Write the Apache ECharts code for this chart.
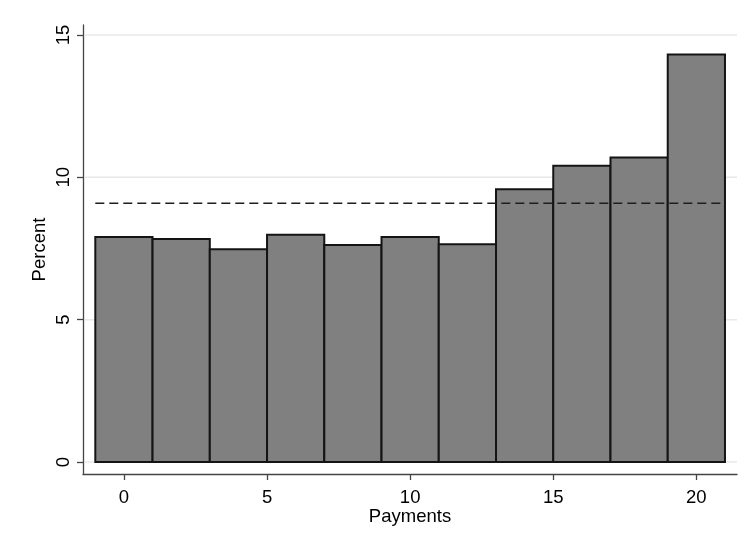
<!DOCTYPE html>
<html>
<head>
<meta charset="utf-8">
<script src="https://cdn.jsdelivr.net/npm/echarts@6/dist/echarts.min.js"></script>
<style>html,body{margin:0;padding:0;background:#fff}#c{width:744px;height:539px}</style>
</head>
<body>
<div id="c"></div>
<script>
// Histogram bins (centre of each bin, width 2)
var binCenters = [0, 2, 4, 6, 8, 10, 12, 14, 16, 18, 20];
var percentValues = [7.90, 7.83, 7.47, 7.98, 7.62, 7.90, 7.65, 9.58, 10.41, 10.70, 14.31];
var binWidth = 2;
var referenceLevel = 9.09;
var xTickValues = [0, 5, 10, 15, 20];
var yTickValues = [0, 5, 10, 15];

var FONT = 'Liberation Sans, Arial, sans-serif';
var chart = echarts.init(document.getElementById('c'), null, {renderer: 'canvas'});

var barData = binCenters.map(function (c, i) { return [c, percentValues[i]]; });
var refLineData = [[binCenters[0] - binWidth / 2, referenceLevel], [binCenters[binCenters.length - 1] + binWidth / 2, referenceLevel]];

chart.setOption({
  backgroundColor: '#fff',
  animation: false,
  grid: {left: 83, right: 7, top: 25, bottom: 65, containLabel: false},
  xAxis: {
    type: 'value', min: -1.43, max: 21.42,
    name: 'Payments', nameLocation: 'middle', nameGap: 33, nameMoveOverlap: false,
    nameTextStyle: {fontFamily: FONT, fontSize: 18.5, color: '#000'},
    axisLine: {show: true, onZero: false, lineStyle: {color: '#444', width: 1.3}},
    axisTick: {show: true, length: 6, customValues: xTickValues, lineStyle: {color: '#444', width: 1.3}},
    axisLabel: {customValues: xTickValues, fontFamily: FONT, fontSize: 18.5, color: '#000', margin: 14},
    splitLine: {show: false}
  },
  yAxis: {
    type: 'value', min: -0.42, max: 15.35,
    name: 'Percent', nameLocation: 'middle', nameGap: 34, nameRotate: 90, nameMoveOverlap: false,
    nameTextStyle: {fontFamily: FONT, fontSize: 18.5, color: '#000'},
    axisLine: {show: true, onZero: false, lineStyle: {color: '#444', width: 1.3}},
    axisTick: {show: true, length: 6, customValues: yTickValues, lineStyle: {color: '#444', width: 1.3}},
    axisLabel: {customValues: yTickValues, rotate: 90, fontFamily: FONT, fontSize: 18.5, color: '#000', margin: 10},
    splitLine: {show: false}
  },
  series: [
    {
      type: 'custom', silent: true, z: 1,
      data: yTickValues.map(function (v) { return [v]; }),
      renderItem: function (params, api) {
        var cs = params.coordSys;
        var y = api.coord([0, api.value(0)])[1];
        return {
          type: 'line',
          shape: {x1: cs.x + 1, y1: y, x2: cs.x + cs.width, y2: y},
          style: {stroke: '#e8e8e8', lineWidth: 1.5}
        };
      }
    },
    {
      type: 'custom',
      data: barData,
      renderItem: function (params, api) {
        var c = api.value(0), v = api.value(1);
        var p0 = api.coord([c - binWidth / 2, v]);
        var p1 = api.coord([c + binWidth / 2, 0]);
        return {
          type: 'rect',
          shape: {x: p0[0], y: p0[1], width: p1[0] - p0[0], height: p1[1] - p0[1]},
          style: {fill: '#808080', stroke: '#141414', lineWidth: 2}
        };
      },
      z: 3
    },
    {
      type: 'line', data: refLineData, symbol: 'none', silent: true, z: 4,
      lineStyle: {color: '#1e1e1e', width: 1.7, type: [9, 5]}
    }
  ]
});
</script>
</body>
</html>
